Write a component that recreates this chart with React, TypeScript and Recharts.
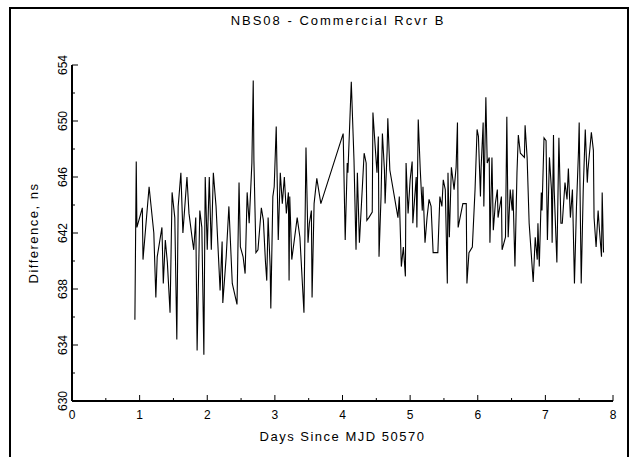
import React from "react";
import { Line, LineChart, XAxis, YAxis } from "recharts";

// days since MJD 50570
const days = [
  0.93, 0.95, 0.96, 1.04, 1.05, 1.14, 1.21, 1.24, 1.26, 1.33, 1.35, 1.38, 1.41, 1.45, 1.48, 1.52,
  1.55, 1.57, 1.61, 1.64, 1.7, 1.73, 1.78, 1.8, 1.83, 1.85, 1.89, 1.92, 1.95, 1.97, 2.0, 2.03,
  2.06, 2.09, 2.13, 2.19, 2.22, 2.23, 2.28, 2.32, 2.37, 2.44, 2.47, 2.49, 2.53, 2.56, 2.59, 2.62,
  2.66, 2.68, 2.69, 2.72, 2.75, 2.8, 2.83, 2.86, 2.88, 2.9, 2.93, 2.94, 2.97, 2.99, 3.02, 3.05,
  3.08, 3.11, 3.14, 3.17, 3.2, 3.21, 3.22, 3.25, 3.33, 3.37, 3.43, 3.46, 3.49, 3.51, 3.54, 3.55,
  3.58, 3.62, 3.68, 4.01, 4.04, 4.07, 4.08, 4.13, 4.16, 4.17, 4.2, 4.22, 4.25, 4.32, 4.35, 4.36,
  4.39, 4.44, 4.45, 4.48, 4.51, 4.53, 4.54, 4.57, 4.59, 4.62, 4.63, 4.66, 4.67, 4.7, 4.82, 4.84,
  4.87, 4.9, 4.93, 4.94, 4.97, 5.0, 5.03, 5.04, 5.09, 5.1, 5.12, 5.15, 5.18, 5.19, 5.22, 5.25,
  5.28, 5.31, 5.34, 5.41, 5.44, 5.47, 5.49, 5.52, 5.55, 5.56, 5.58, 5.61, 5.65, 5.68, 5.7, 5.71,
  5.78, 5.83, 5.84, 5.87, 5.92, 5.96, 5.99, 6.01, 6.04, 6.05, 6.08, 6.09, 6.12, 6.14, 6.17, 6.18,
  6.21, 6.23, 6.26, 6.29, 6.3, 6.35, 6.36, 6.41, 6.43, 6.45, 6.48, 6.51, 6.52, 6.55, 6.58, 6.6,
  6.63, 6.69, 6.7, 6.73, 6.76, 6.82, 6.85, 6.88, 6.89, 6.91, 6.94, 6.95, 6.98, 7.01, 7.03, 7.06,
  7.09, 7.1, 7.12, 7.13, 7.17, 7.2, 7.23, 7.25, 7.29, 7.32, 7.34, 7.37, 7.4, 7.43, 7.46, 7.49,
  7.5, 7.53, 7.56, 7.59, 7.62, 7.63, 7.68, 7.71, 7.72, 7.75, 7.78, 7.8, 7.83, 7.84, 7.86,
];

// difference, ns
const diffs = [
  635.8, 647.1, 642.4, 643.8, 640.1, 645.3, 642.0, 637.4, 640.3, 642.4, 638.4, 641.5, 639.9, 636.3, 644.9, 643.1,
  634.4, 643.9, 646.3, 642.0, 646.0, 643.4, 641.5, 640.8, 643.1, 633.6, 643.6, 642.4, 633.3, 646.0, 640.8, 646.0,
  640.8, 646.3, 643.9, 637.9, 641.4, 637.0, 640.3, 643.9, 638.4, 636.9, 645.6, 641.0, 640.3, 639.1, 644.9, 642.7,
  647.0, 652.9, 647.2, 640.6, 640.8, 643.8, 642.9, 640.0, 638.6, 643.1, 639.6, 636.6, 644.6, 645.3, 649.6, 641.5,
  646.3, 644.1, 646.0, 643.4, 644.9, 638.6, 644.6, 640.1, 643.1, 641.7, 636.3, 648.1, 641.3, 642.7, 643.6, 637.4,
  644.1, 645.9, 644.1, 649.1, 641.5, 647.0, 646.3, 652.8, 648.6, 647.2, 640.8, 646.3, 641.3, 647.7, 647.0, 642.9,
  643.1, 643.5, 650.6, 648.4, 646.3, 648.9, 640.3, 644.6, 649.1, 646.5, 644.1, 647.9, 650.2, 646.5, 643.1, 644.6,
  639.6, 641.0, 638.9, 647.0, 643.4, 645.8, 647.1, 642.7, 646.0, 642.4, 650.1, 646.5, 643.6, 645.3, 641.3, 643.1,
  644.4, 643.9, 640.6, 640.6, 644.6, 643.9, 645.8, 645.1, 638.4, 646.3, 641.7, 646.7, 645.1, 646.7, 649.9, 642.4,
  644.1, 644.1, 638.4, 640.6, 641.0, 645.1, 649.4, 648.9, 644.6, 646.7, 649.9, 643.9, 651.7, 647.0, 647.4, 641.3,
  647.4, 642.2, 644.1, 645.1, 643.1, 644.6, 640.8, 641.7, 650.3, 641.7, 645.1, 643.6, 645.1, 639.6, 646.3, 649.0,
  647.7, 647.4, 649.7, 647.4, 642.7, 638.5, 641.7, 640.1, 642.7, 639.6, 644.9, 643.6, 648.8, 648.6, 641.5, 647.4,
  645.1, 641.3, 649.0, 645.1, 639.9, 648.8, 642.7, 642.7, 645.6, 644.4, 646.6, 643.1, 645.1, 638.4, 643.9, 647.9,
  649.9, 638.4, 645.1, 649.4, 645.6, 646.5, 649.2, 647.9, 643.1, 641.0, 643.6, 642.2, 640.3, 644.9, 640.6,
];

const xTicks = [0, 0.5, 1, 1.5, 2, 2.5, 3, 3.5, 4, 4.5, 5, 5.5, 6, 6.5, 7, 7.5, 8];
const yTicks = [630, 632, 634, 636, 638, 640, 642, 644, 646, 648, 650, 652, 654];

const data = days.map((d, i) => ({ day: d, diff: diffs[i] }));

const FONT = "'Liberation Sans', Arial, sans-serif";

const BottomTick = (props: any) => {
  const { x, y, payload } = props;
  const major = Number.isInteger(payload.value);
  return (
    <g>
      <line x1={x} y1={y} x2={x} y2={y - (major ? 6 : 3)} stroke="#000" strokeWidth={1} />
      {major && (
        <text x={x} y={y + 18} textAnchor="middle" fontSize={12} fontFamily={FONT} fill="#000">
          {payload.value}
        </text>
      )}
    </g>
  );
};

const TopTick = (props: any) => {
  const { x, y, payload } = props;
  const major = Number.isInteger(payload.value);
  return <line x1={x} y1={y} x2={x} y2={y + (major ? 6 : 3)} stroke="#000" strokeWidth={1} />;
};

const LeftTick = (props: any) => {
  const { x, y, payload } = props;
  const major = (payload.value - 630) % 4 === 0;
  const tx = x - 5;
  return (
    <g>
      <line x1={x} y1={y} x2={x + (major ? 6 : 3)} y2={y} stroke="#000" strokeWidth={1} />
      {major && (
        <text
          x={tx}
          y={y}
          transform={`rotate(-90 ${tx} ${y})`}
          textAnchor="middle"
          fontSize={12}
          fontFamily={FONT}
          fill="#000"
        >
          {payload.value}
        </text>
      )}
    </g>
  );
};

const RightTick = (props: any) => {
  const { x, y, payload } = props;
  const major = (payload.value - 630) % 4 === 0;
  return <line x1={x} y1={y} x2={x - (major ? 6 : 3)} y2={y} stroke="#000" strokeWidth={1} />;
};

export default function App() {
  return (
    <div style={{ position: "absolute", left: 0, top: 0, width: 637, height: 457, background: "#fff", overflow: "hidden" }}>
      <div
        style={{
          position: "absolute",
          left: 9,
          top: 7,
          width: 620,
          height: 470,
          borderLeft: "2px solid #000",
          borderTop: "2px solid #000",
          borderRight: "2px solid #000",
          boxSizing: "border-box",
        }}
      />
      <LineChart
        width={637}
        height={457}
        data={data}
        margin={{ top: 65, right: 24, bottom: 26, left: 32 }}
        style={{ position: "absolute", left: 0, top: 0 }}
      >
        <XAxis
          dataKey="day"
          type="number"
          domain={[0, 8]}
          ticks={xTicks}
          interval={0}
          height={30}
          tickSize={0}
          tickMargin={0}
          tick={<BottomTick />}
          axisLine={{ stroke: "#000", strokeWidth: 2 }}
          label={{ value: "Days Since MJD 50570", position: "insideBottom", offset: -10, fontSize: 13, fontFamily: FONT, fill: "#000", letterSpacing: 1.5 } as any}
        />
        <XAxis
          xAxisId="top"
          orientation="top"
          dataKey="day"
          type="number"
          domain={[0, 8]}
          ticks={xTicks}
          interval={0}
          height={0}
          tickSize={0}
          tickMargin={0}
          tick={<TopTick />}
          axisLine={{ stroke: "#000", strokeWidth: 2 }}
        />
        <YAxis
          type="number"
          domain={[630, 654]}
          ticks={yTicks}
          interval={0}
          width={40}
          tickSize={0}
          tickMargin={0}
          tick={<LeftTick />}
          axisLine={{ stroke: "#000", strokeWidth: 2 }}
          label={{ value: "Difference, ns", angle: -90, position: "insideLeft", offset: 1, fontSize: 13, fontFamily: FONT, fill: "#000", letterSpacing: 1.5, style: { textAnchor: "middle" } } as any}
        />
        <YAxis
          yAxisId="right"
          orientation="right"
          type="number"
          domain={[630, 654]}
          ticks={yTicks}
          interval={0}
          width={0}
          tickSize={0}
          tickMargin={0}
          tick={<RightTick />}
          axisLine={{ stroke: "#000", strokeWidth: 2 }}
        />
        <text x={338} y={25} textAnchor="middle" fontSize={13} fontFamily={FONT} fill="#000" letterSpacing={2}>
          NBS08 - Commercial Rcvr B
        </text>
        <Line
          type="linear"
          dataKey="diff"
          stroke="#000"
          strokeWidth={1.1}
          dot={false}
          isAnimationActive={false}
        />
      </LineChart>
    </div>
  );
}
